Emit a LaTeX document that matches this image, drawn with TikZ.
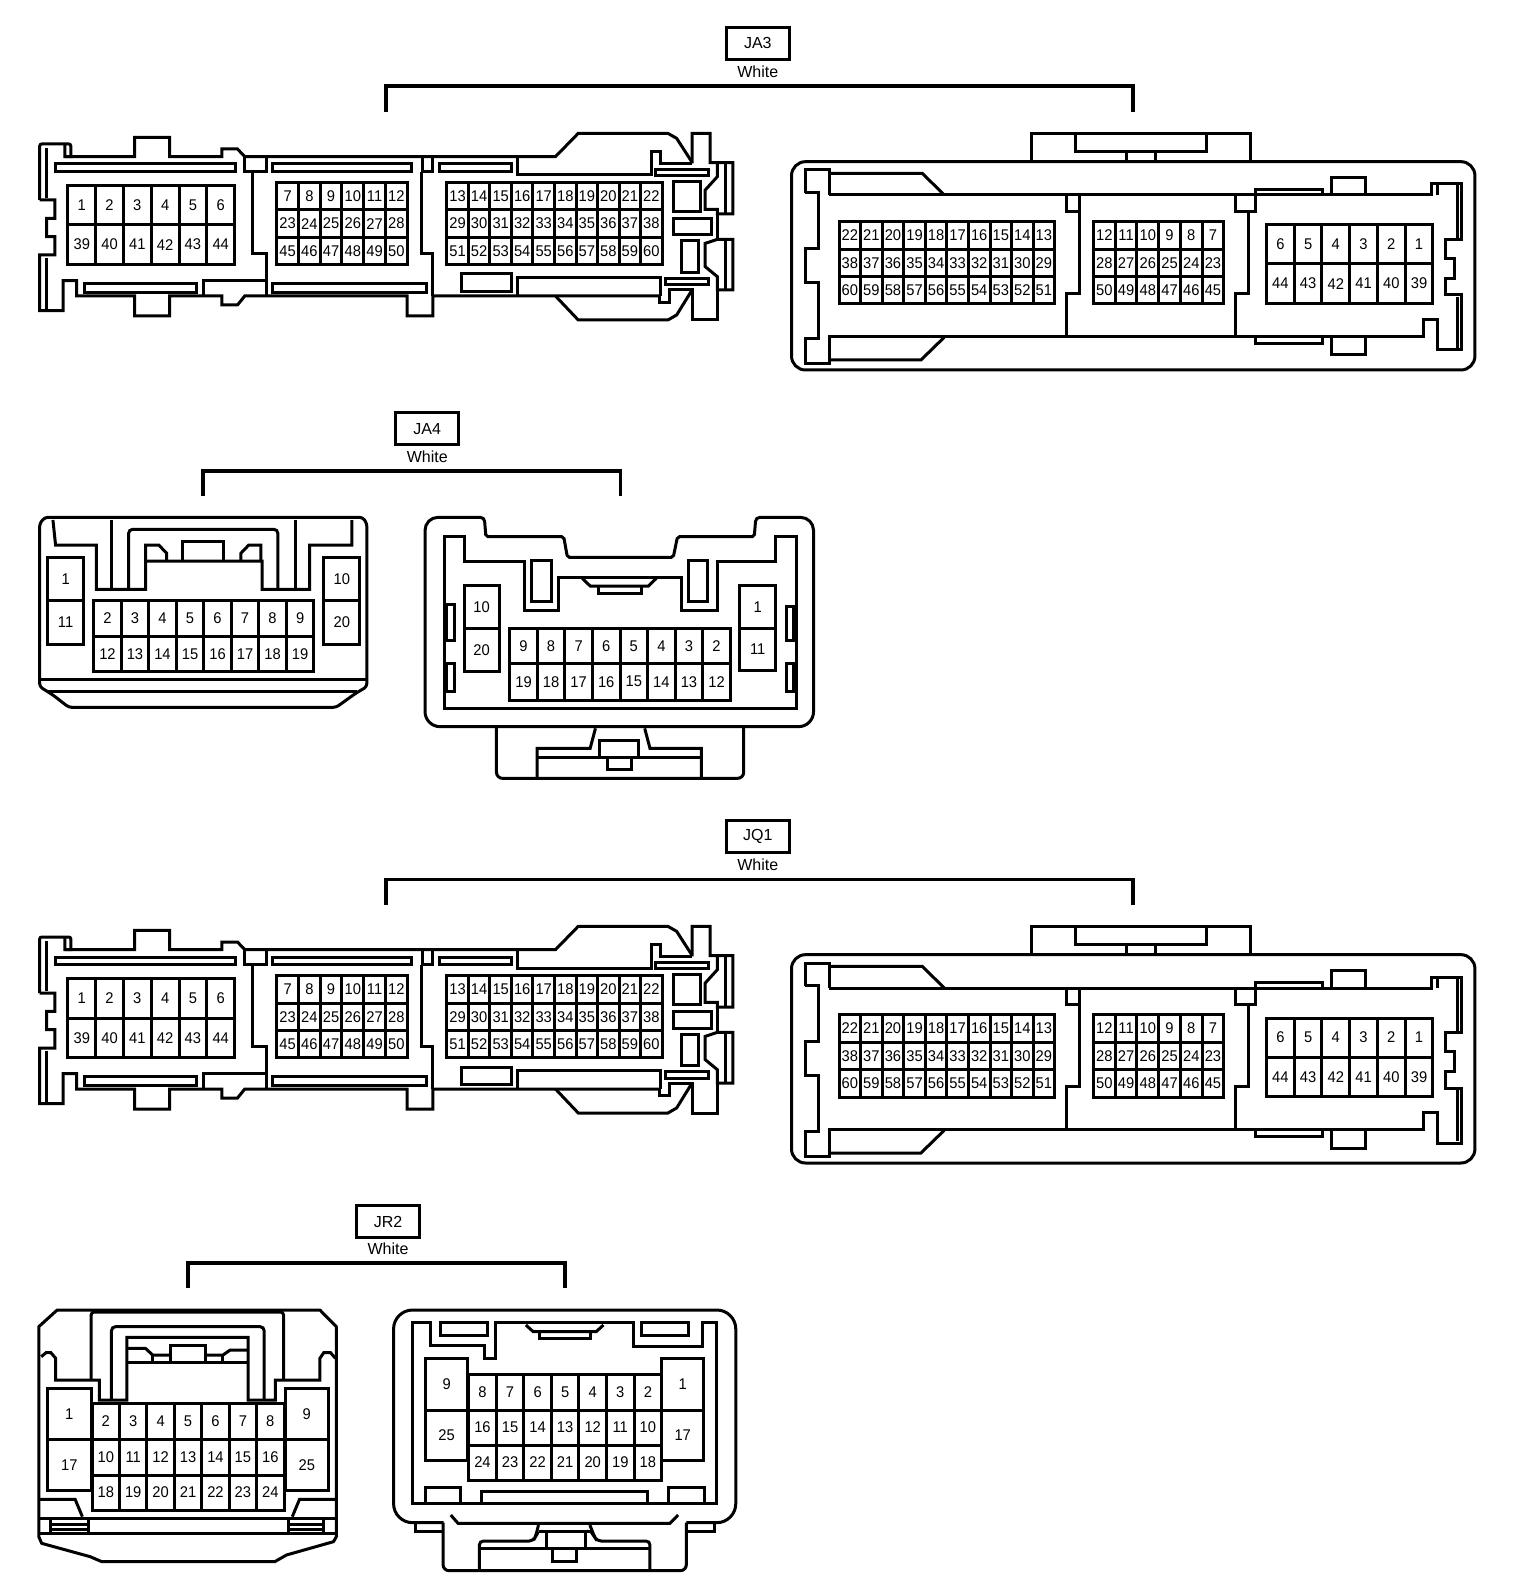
\documentclass[tikz,border=0pt]{standalone}
\usepackage{fontspec}
\setmainfont{Liberation Sans}
\newfontfamily\pinfont[FakeStretch=0.95]{Liberation Sans}
\usetikzlibrary{positioning}

\tikzset{
  shell/.style={draw,line width=3pt,line join=miter},
  pincell/.style={draw,line width=3pt,fill=white},
  pinlabel/.style={inner sep=0pt,font=\pinfont\fontsize{15.5}{18}\selectfont},
  headbox/.style={draw,line width=3.5pt,minimum width=63pt,minimum height=32pt,inner sep=0pt,font=\fontsize{16}{18}\selectfont},
  colourlabel/.style={inner sep=0pt,font=\fontsize{16}{18}\selectfont},
  bracket/.style={draw,line width=3.8pt,line join=miter},
  unitsa/.style={x=.4847pt,y=-.33333pt},
  unitsb/.style={x=.5293pt,y=-.33333pt},
}

% one row of pin cells: name, left, step, top, bottom, labels
\newcommand{\pinrow}[6]{%
  \foreach \lab [count=\n from 0] in {#6}
    \draw[pincell] ({#2+\n*#3},#4) rectangle node[pinlabel] (#1\lab) {\lab} ({#2+(\n+1)*#3},#5);
}

% header box, colour and bracket: name, text, box x, box y, white y, left, right, top, bottom
\newcommand{\header}[9]{%
  \node[headbox] (#1) at (#3,#4) {#2};
  \node[colourlabel] (#1col) at (#3,#5) {White};
  \coordinate (#1l) at (#6,#9);
  \coordinate (#1r) at (#7,#9);
  \draw[bracket] (#1l) -- (#6,#8) -- (#7,#8) -- (#1r);
}

% the 60 pin pair, used for JA3 and JQ1
\newcommand{\sixtypair}[1]{%
  % left connector
  \begin{scope}[unitsa]
    \path[shell] (82,600) -- (82,445) [rounded corners=2pt] -- (82,432) -- (146,432) [sharp corners] -- (146,470) -- (134,470) -- (134,435);
    \path[shell] (134,470) -- (278,470) -- (278,412) -- (350,412) -- (350,470)
      -- (458,470) -- (458,447) -- (490,447) -- (505,470) -- (1146,470) -- (1193,400) -- (1378,400) -- (1396,415) -- (1427,485);
    \path[shell] (1428,490) -- (1428,400) -- (1465,400) -- (1465,488) -- (1512,488) -- (1512,642) -- (1480,642) -- (1480,628) -- (1455,628)
      -- (1455,570) -- (1480,530) -- (1480,490);
    \path[shell] (1480,642) -- (1480,718);
    \path[shell] (1512,718) -- (1512,870) -- (1480,870) -- (1480,830) -- (1455,800) -- (1455,730) -- (1480,718) -- cycle;
    \path[shell] (1497,492) -- (1497,638) (1497,722) -- (1497,866);
    \path[shell] (1480,870) -- (1480,960) -- (1428,960) -- (1428,870) -- (1382,870) -- (1382,908) -- (1360,908) -- (1360,888);
    \path[shell] (1427,872) -- (1396,945) -- (1378,960) -- (1193,960) -- (1146,888);
    \path[shell] (82,600) -- (113,600) -- (113,655) -- (96,655) -- (96,710) -- (113,710) -- (113,765) -- (82,765) -- (82,932)
      -- (130,932) -- (130,842) -- (158,842) -- (158,888) -- (278,888) -- (278,948) -- (350,948) -- (350,888) -- (458,888)
      -- (458,915) -- (490,915) -- (505,888) -- (840,888) -- (840,948) -- (893,948) -- (893,888) -- (1360,888);
    \path[shell] (96,445) -- (96,595) (96,775) -- (96,928);
    \path[shell] (115,492) rectangle (485,515);
    \path[shell] (563,492) rectangle (848,515);
    \path[shell] (907,492) rectangle (1055,515);
    \path[shell] (1067,475) -- (1067,525) -- (1345,525) -- (1345,455) -- (1362,455) -- (1362,490) -- (1428,490);
    \path[shell] (1352,508) rectangle (1462,526);
    \path[shell] (1390,545) rectangle (1445,635);
    \path[shell] (1390,655) rectangle (1468,705);
    \path[shell] (1405,723) rectangle (1442,818);
    \path[shell] (1372,835) rectangle (1462,855);
    \path[shell] (952,822) rectangle (1055,875);
    \path[shell] (1067,888) -- (1067,832) -- (1362,832) -- (1362,888);
    \path[shell] (175,850) rectangle (405,877);
    \path[shell] (563,850) rectangle (880,877);
    \path[shell] (505,470) -- (505,515) -- (550,515) -- (550,470);
    \path[shell] (520,515) -- (520,760) -- (550,760) -- (550,888);
    \path[shell] (872,470) -- (872,515) -- (893,515) -- (893,470);
    \path[shell] (870,515) -- (870,760) -- (893,760) -- (893,888);
    \path[shell] (420,888) -- (420,842) -- (548,842);
    \pinrow{#1a}{140}{57.33}{557}{675}{1,...,6}
    \pinrow{#1a}{140}{57.33}{675}{793}{39,...,44}
    \pinrow{#1a}{571}{44.83}{548}{630}{7,...,12}
    \pinrow{#1a}{571}{44.83}{630}{712}{23,...,28}
    \pinrow{#1a}{571}{44.83}{712}{793}{45,...,50}
    \pinrow{#1a}{922}{44.4}{548}{630}{13,...,22}
    \pinrow{#1a}{922}{44.4}{630}{712}{29,...,38}
    \pinrow{#1a}{922}{44.4}{712}{793}{51,...,60}
  \end{scope}
  % right connector
  \begin{scope}[unitsa,xshift=760pt]
    \path[shell,rounded corners=14pt] (65,485) rectangle (1475,1110);
    \path[shell] (560,485) -- (560,400) -- (1012,400) -- (1012,485);
    \path[shell] (650,400) -- (650,455) -- (922,455) -- (922,400);
    \path[shell] (757,485) -- (757,455) (815,455) -- (815,485);
    \path[shell] (93,578) -- (93,510) -- (143,510) -- (143,585);
    \path[shell] (143,520) -- (335,520) -- (380,585);
    \path[shell] (93,578) -- (120,578) -- (120,745) -- (93,745) -- (93,848) -- (120,848) -- (120,1015) -- (93,1015) -- (93,1090)
      -- (143,1090) -- (143,1010) -- (1368,1010) -- (1368,958) -- (1397,958) -- (1397,1050) -- (1447,1050) -- (1447,885)
      -- (1415,885) -- (1415,835) -- (1433,835) -- (1433,775) -- (1415,775) -- (1415,718) -- (1447,718) -- (1447,552)
      -- (1385,552) -- (1385,585) -- (143,585);
    \path[shell] (143,1080) -- (332,1080) -- (380,1012);
    \path[shell] (1397,555) -- (1397,585) (1438,555) -- (1438,715) (1438,890) -- (1438,1045);
    \path[shell] (1022,585) -- (1022,568) -- (1160,568) -- (1160,585);
    \path[shell] (1180,585) -- (1180,532) -- (1250,532) -- (1250,585);
    \path[shell] (1022,1010) -- (1022,1030) -- (1160,1030) -- (1160,1010);
    \path[shell] (1180,1010) -- (1180,1065) -- (1250,1065) -- (1250,1010);
    \path[shell] (633,585) -- (633,635) -- (660,635) -- (660,880) -- (633,880) -- (633,1010);
    \path[shell] (660,585) -- (660,635);
    \path[shell] (980,585) -- (980,635) -- (1022,635) -- (1022,585);
    \path[shell] (1008,635) -- (1008,880) -- (980,880) -- (980,1010);
    \pinrow{#1b}{163}{44.5}{665}{748}{22,21,...,13}
    \pinrow{#1b}{163}{44.5}{748}{830}{38,37,...,29}
    \pinrow{#1b}{163}{44.5}{830}{912}{60,59,...,51}
    \pinrow{#1b}{688}{44.83}{665}{748}{12,11,...,7}
    \pinrow{#1b}{688}{44.83}{748}{830}{28,27,...,23}
    \pinrow{#1b}{688}{44.83}{830}{912}{50,49,...,45}
    \pinrow{#1b}{1045}{57.2}{675}{792}{6,5,...,1}
    \pinrow{#1b}{1045}{57.2}{792}{910}{44,43,...,39}
  \end{scope}
}

\begin{document}
\begin{tikzpicture}[x=1pt,y=-1pt]
  \useasboundingbox (0,0) rectangle (1520,1594);

  % JA3
  \header{jathree}{JA3}{757.8}{43.4}{72}{386.3}{1133.2}{86.4}{111.7}
  \sixtypair{ja}

  % JQ1
  \header{jqone}{JQ1}{757.8}{836.4}{865}{386.3}{1133.2}{879.4}{904.7}
  \begin{scope}[yshift=-793pt]
    \sixtypair{jq}
  \end{scope}

  % JA4
  \header{jafour}{JA4}{427.2}{428.7}{456.7}{202.7}{620.4}{470.7}{496}
  \begin{scope}[unitsb,yshift=-400pt]
    % left connector
    \path[shell,rounded corners=3pt] (75,370) -- (85,352) -- (685,352) -- (693,370) -- (693,860) -- (672,880) -- (635,922)
      -- (130,922) -- (100,885) -- (75,860) -- cycle;
    \path[shell] (75,838) -- (693,838) (90,873) -- (675,873);
    \path[shell] (100,360) -- (105,435) -- (182,435) -- (182,568) -- (275,568) -- (275,483) -- (495,483) -- (495,568)
      -- (585,568) -- (585,435) -- (665,435) -- (665,360);
    \path[shell] (210,360) -- (210,568) (558,360) -- (558,568);
    \path[shell,rounded corners=4pt] (243,568) -- (243,388) -- (525,388) -- (525,568);
    \path[shell] (275,483) -- (275,435) -- (300,435) -- (315,460) -- (315,483);
    \path[shell] (493,483) -- (493,435) -- (470,435) -- (455,460) -- (455,483);
    \path[shell] (345,483) -- (345,423) -- (423,423) -- (423,483);
    \pinrow{cl}{90}{68}{472}{600}{1}
    \pinrow{cl}{90}{68}{600}{733}{11}
    \pinrow{cl}{612}{68}{472}{600}{10}
    \pinrow{cl}{612}{68}{600}{733}{20}
    \pinrow{cl}{177}{52}{600}{708}{2,...,9}
    \pinrow{cl}{177}{52}{708}{815}{12,...,19}
    % right connector
    \path[shell] [rounded corners=13pt] (803,660) -- (803,352) [rounded corners=4pt] -- (915,352) [rounded corners=2pt] -- (918,410) -- (1065,410)
      -- (1072,472) -- (1272,472) -- (1280,410) -- (1425,410) [rounded corners=4pt] -- (1428,352) [rounded corners=13pt] -- (1537,352)
      [rounded corners=15pt] -- (1537,980) -- (803,980) -- cycle;
    \path[shell,rounded corners=6pt] (938,982) -- (938,1135) -- (1405,1135) -- (1405,982);
    \path[shell] (840,410) -- (878,410) -- (878,485) -- (990,485) -- (990,630) -- (1055,630) -- (1055,532) -- (1287,532)
      -- (1287,630) -- (1355,630) -- (1355,485) -- (1465,485) -- (1465,410) -- (1505,410) -- (1505,925) -- (840,925) -- cycle;
    \path[shell] (1005,482) rectangle (1042,603);
    \path[shell] (1300,482) rectangle (1337,603);
    \path[shell] (1100,535) -- (1115,558) -- (1225,558) -- (1240,535);
    \path[shell] (1130,558) -- (1130,580) -- (1212,580) -- (1212,558);
    \path[shell] (843,612) rectangle (858,720);
    \path[shell] (843,790) rectangle (858,875);
    \path[shell] (1485,620) rectangle (1500,720);
    \path[shell] (1485,790) rectangle (1500,875);
    \path[shell] (1015,1135) -- (1015,1045) -- (1115,1045) -- (1125,985);
    \path[shell] (1325,1135) -- (1325,1045) -- (1228,1045) -- (1218,985);
    \path[shell] (1015,1072) -- (1325,1072);
    \path[shell] (1132,1072) -- (1132,1020) -- (1207,1020) -- (1207,1072);
    \path[shell] (1148,1072) -- (1148,1107) -- (1193,1107) -- (1193,1072);
    \pinrow{cr}{877}{66}{555}{685}{10}
    \pinrow{cr}{877}{66}{685}{815}{20}
    \pinrow{cr}{1398}{67}{555}{685}{1}
    \pinrow{cr}{1398}{67}{685}{810}{11}
    \pinrow{cr}{963}{52.1}{685}{790}{9,8,...,2}
    \pinrow{cr}{963}{52.1}{790}{900}{19,18,...,12}
  \end{scope}

  % JR2
  \header{jrtwo}{JR2}{388}{1221.7}{1249}{187.6}{564.7}{1263.3}{1288.3}
  \begin{scope}[unitsa,yshift=-1200pt]
    % left connector
    \path[shell,line join=round] (80,380) -- (118,330) -- (660,330) -- (694,380) -- (694,1010) -- (688,1025) -- (591,1065)
      -- (567,1085) -- (210,1085) -- (186,1070) -- (86,1030) -- (80,1010) -- cycle;
    \path[shell] (80,1000) -- (694,1000) (80,955) -- (694,955);
    \path[shell] (182,955) -- (182,1000) (595,955) -- (595,1000);
    \path[shell] (105,955) -- (105,1000) (667,955) -- (667,1000);
    \path[shell] (105,973) -- (182,973) (595,973) -- (667,973);
    \path[shell] (105,988) -- (182,988) (595,988) -- (667,988);
    \path[shell] (80,898) -- (155,898) -- (170,950) (694,898) -- (618,898) -- (603,950);
    \path[shell,rounded corners=3pt] (188,540) -- (188,336) -- (585,336) -- (585,540);
    \path[shell] (85,470) -- (95,458) -- (105,458) -- (115,475) -- (115,540) -- (205,540) -- (205,600) -- (262,600) -- (262,412)
      -- (512,412) -- (512,600) -- (568,600) -- (568,540) -- (660,540) -- (660,475) -- (668,458) -- (682,458) -- (692,475);
    \path[shell,rounded corners=4pt] (230,600) -- (230,380) -- (545,380) -- (545,600);
    \path[shell] (262,488) -- (512,488);
    \path[shell] (262,445) -- (300,445) -- (315,465) -- (352,465);
    \path[shell] (423,465) -- (460,465) -- (475,450) -- (512,450);
    \path[shell] (352,488) -- (352,435) -- (423,435) -- (423,488);
    \path[shell] (315,465) -- (315,488) (460,465) -- (460,488);
    \pinrow{el}{98}{90}{565}{718}{1}
    \pinrow{el}{98}{90}{718}{872}{17}
    \pinrow{el}{588}{90}{565}{718}{9}
    \pinrow{el}{588}{90}{718}{872}{25}
    \pinrow{el}{190}{56.57}{610}{718}{2,...,8}
    \pinrow{el}{190}{56.57}{718}{825}{10,...,16}
    \pinrow{el}{190}{56.57}{825}{930}{18,...,24}
    % right connector
    \path[shell,rounded corners=19pt] (915,968) -- (812,968) -- (812,330) -- (1518,330) -- (1518,968) -- (1416,968);
    \path[shell] (858,968) -- (858,993) -- (914,993) (1475,968) -- (1475,993) -- (1416,993);
    \path[shell,rounded corners=6pt] (914,968) -- (914,1112) -- (1416,1112) -- (1416,968);
    \path[shell] (930,945) -- (945,970) -- (1382,970) -- (1399,945);
    \path[shell] (852,368) -- (888,368) -- (888,437) -- (1000,437) -- (1000,475) -- (1022,475) -- (1022,368) -- (1308,368)
      -- (1308,440) -- (1450,440) -- (1450,368) -- (1478,368) -- (1478,910) -- (852,910) -- cycle;
    \path[shell] (908,368) rectangle (1005,405);
    \path[shell] (1323,368) rectangle (1420,405);
    \path[shell] (1085,375) -- (1100,395) -- (1230,395) -- (1245,375);
    \path[shell] (1113,398) -- (1113,415) -- (1218,415) -- (1218,398);
    \path[shell] (877,910) -- (877,862) -- (951,862) -- (951,910);
    \path[shell] (1379,910) -- (1379,862) -- (1454,862) -- (1454,910);
    \path[shell] (994,910) -- (994,875) -- (1335,875) -- (1335,910);
    \path[shell,rounded corners=4pt] (989,1112) -- (989,1023) -- (1100,1023) -- (1105,1010) -- (1111,975);
    \path[shell,rounded corners=4pt] (1341,1112) -- (1341,1023) -- (1232,1023) -- (1227,1012) -- (1217,975);
    \path[shell] (989,1045) -- (1341,1045) (1112,995) -- (1220,995);
    \path[shell] (1128,1045) -- (1128,995) (1207,995) -- (1207,1045);
    \path[shell] (1140,1045) -- (1140,1085) -- (1190,1085) -- (1190,1045);
    \pinrow{er}{878}{87}{475}{630}{9}
    \pinrow{er}{878}{87}{630}{780}{25}
    \pinrow{er}{1365}{87}{475}{630}{1}
    \pinrow{er}{1365}{87}{630}{780}{17}
    \pinrow{er}{967}{56.86}{522}{630}{8,7,...,2}
    \pinrow{er}{967}{56.86}{630}{735}{16,15,...,10}
    \pinrow{er}{967}{56.86}{735}{840}{24,23,...,18}
  \end{scope}
\end{tikzpicture}
\end{document}
